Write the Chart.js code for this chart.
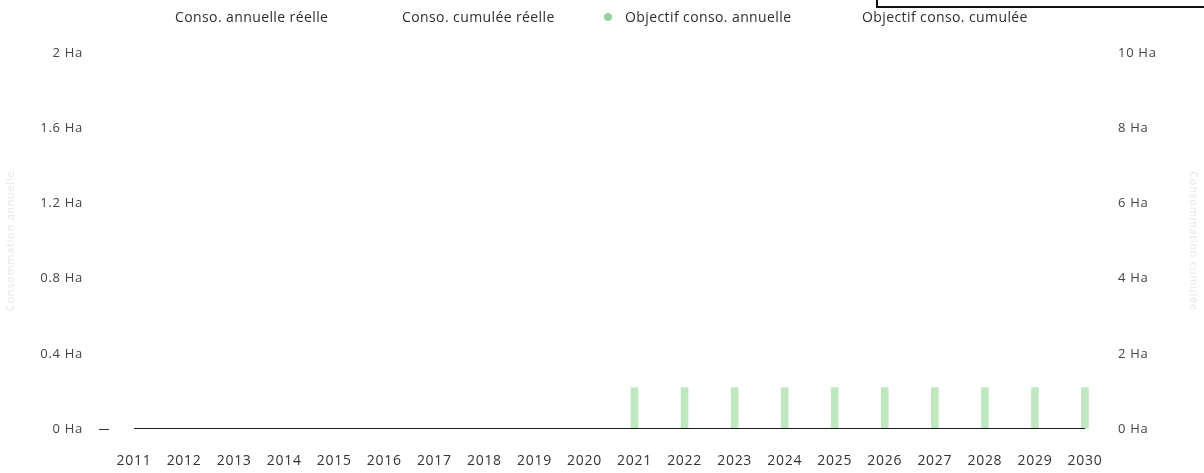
<!DOCTYPE html>
<html>
<head>
<meta charset="utf-8">
<script src="https://cdn.jsdelivr.net/npm/chart.js@4"></script>
<style>
  html, body { margin: 0; padding: 0; background: #fff; }
  #wrap { position: relative; width: 1204px; height: 473px; overflow: hidden; }
  #chart { position: absolute; left: 0; top: 0; }
  #frame { position: absolute; left: 876px; top: -30px; width: 400px; height: 34px; border: 2px solid #111; }
  .leg { position: absolute; top: 8px; font: 14px 'Open Sans', sans-serif; letter-spacing: 0.4px; color: #2e2e2e; white-space: nowrap; line-height: 18px; }
  .dot { position: absolute; top: 13px; left: 604px; width: 8px; height: 8px; border-radius: 50%; background: rgba(140,205,150,0.9); }
</style>
</head>
<body>
<div id="wrap">
  <canvas id="chart" width="1204" height="473"></canvas>
  <div id="legend"></div>
  <div id="frame"></div>
</div>
<script>
const years = ['2011', '2012', '2013', '2014', '2015', '2016', '2017', '2018', '2019', '2020',
    '2021', '2022', '2023', '2024', '2025', '2026', '2027', '2028', '2029', '2030'];
const consoAnnuelle = [0, 0, 0, 0, 0, 0, 0, 0, 0, 0, null, null, null, null, null, null, null, null, null, null];
const consoCumulee = [0, 0, 0, 0, 0, 0, 0, 0, 0, 0, null, null, null, null, null, null, null, null, null, null];
const objectifAnnuel = [null, null, null, null, null, null, null, null, null, null,
    0.22, 0.22, 0.22, 0.22, 0.22, 0.22, 0.22, 0.22, 0.22, 0.22];
const objectifCumule = [0, 0, 0, 0, 0, 0, 0, 0, 0, 0, 0, 0, 0, 0, 0, 0, 0, 0, 0, 0];
const leftTicks = [0, 0.4, 0.8, 1.2, 1.6, 2];
const rightTicks = [0, 2, 4, 6, 8, 10];
const seriesNames = ['Conso. annuelle réelle', 'Conso. cumulée réelle', 'Objectif conso. annuelle', 'Objectif conso. cumulée'];

const fmtHa = v => `${Math.round(v * 10) / 10} Ha`;

// legend drawn as html, the chart.js one can't space items like the original
const legendX = [175, 402, 625, 862];
const legendBox = document.getElementById('legend');
seriesNames.forEach((name, i) => {
    const span = document.createElement('span');
    span.className = 'leg';
    span.style.left = legendX[i] + 'px';
    span.textContent = name;
    legendBox.appendChild(span);
});
const dot = document.createElement('span');
dot.className = 'dot';
legendBox.appendChild(dot);

const spacing = {
    id: 'spacing',
    beforeDraw: chart => { chart.ctx.letterSpacing = '0.7px'; }
};

new Chart(document.getElementById('chart'), {
    type: 'bar',
    data: {
        labels: years,
        datasets: [
            {
                label: seriesNames[0],
                data: consoAnnuelle,
                yAxisID: 'y',
                backgroundColor: 'rgba(230,190,230,0.4)',
                barThickness: 7,
                grouped: false,
                order: 3
            },
            {
                type: 'line',
                label: seriesNames[1],
                data: consoCumulee,
                yAxisID: 'y1',
                borderColor: 'rgba(220,140,220,0.5)',
                borderWidth: 1,
                pointRadius: 0,
                order: 2
            },
            {
                label: seriesNames[2],
                data: objectifAnnuel,
                yAxisID: 'y',
                backgroundColor: 'rgba(165,222,165,0.7)',
                barThickness: 7,
                grouped: false,
                order: 4
            },
            {
                type: 'line',
                label: seriesNames[3],
                data: objectifCumule,
                yAxisID: 'y1',
                borderColor: '#1c1c1c',
                borderWidth: 2,
                pointRadius: 0,
                order: 1
            }
        ]
    },
    plugins: [spacing],
    options: {
        responsive: false,
        animation: false,
        layout: { padding: { top: 53, left: 0, right: 0, bottom: 0 } },
        plugins: {
            tooltip: { enabled: false },
            legend: { display: false }
        },
        scales: {
            x: {
                offset: true,
                border: { display: false },
                grid: { display: false, drawTicks: false },
                ticks: { font: { family: 'Open Sans', size: 14 }, color: '#333', padding: 24, maxRotation: 0 },
                afterFit: s => { s.height = 44; }
            },
            y: {
                position: 'left',
                min: 0,
                max: 2,
                afterBuildTicks: s => { s.ticks = leftTicks.map(v => ({ value: v })); },
                border: { display: false },
                grid: {
                    drawOnChartArea: false,
                    tickLength: 10,
                    color: ctx => ctx.tick && ctx.tick.value === 0 ? '#333' : 'rgba(0,0,0,0)'
                },
                ticks: { font: { family: 'Open Sans', size: 13 }, color: '#444', padding: 16, callback: v => fmtHa(v) },
                title: { display: true, text: 'Consommation annuelle', color: '#e6e6e6', font: { family: 'Open Sans', size: 11 } },
                afterFit: s => { s.width = 109; }
            },
            y1: {
                position: 'right',
                min: 0,
                max: 10,
                afterBuildTicks: s => { s.ticks = rightTicks.map(v => ({ value: v })); },
                border: { display: false },
                grid: { display: false, drawTicks: false },
                ticks: { font: { family: 'Open Sans', size: 13 }, color: '#444', padding: 8, callback: v => fmtHa(v) },
                title: { display: true, text: 'Consommation cumulée', color: '#e6e6e6', font: { family: 'Open Sans', size: 11 } },
                afterFit: s => { s.width = 94; }
            }
        }
    }
});
</script>
</body>
</html>
